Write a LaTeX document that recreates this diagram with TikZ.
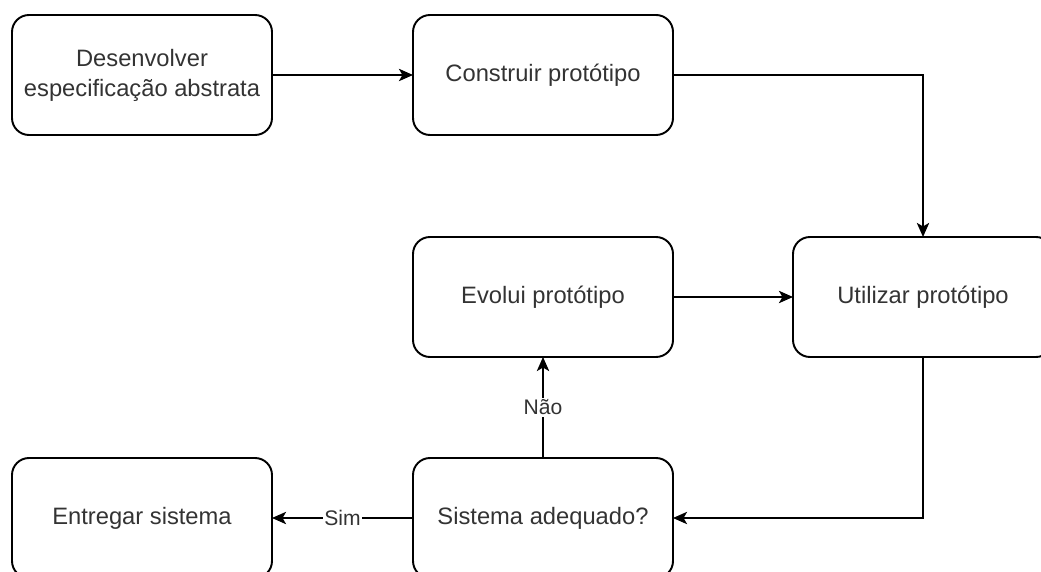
\documentclass[tikz,border=0pt]{standalone}
\usepackage{fontspec}
\setmainfont{Liberation Sans}
\usetikzlibrary{arrows.meta}
\definecolor{txtgray}{HTML}{333333}
\tikzstyle{etapa}=[draw,rounded corners=0.34cm,line width=1.1pt,minimum width=5.2cm,minimum height=2.4cm,inner sep=0pt,outer sep=0pt,align=center,text=txtgray,font=\fontsize{13.5}{17}\selectfont]
\tikzstyle{fluxo}=[-{Stealth[length=8pt,width=7pt,inset=2pt]},line width=1.1pt]
\tikzstyle{rotulo}=[fill=white,inner sep=1pt,text=txtgray,font=\fontsize{12}{14}\selectfont]

\begin{document}
\begin{tikzpicture}
  \useasboundingbox (0,0) rectangle (20.82,-11.44);
  % etapas
  \node[etapa] (desenvolver) at (2.84,-1.5) {Desenvolver\\especificação abstrata};
  \node[etapa] (construir) at (10.86,-1.5) {Construir protótipo};
  \node[etapa] (utilizar) at (18.46,-5.94) {Utilizar protótipo};
  \node[etapa] (evolui) at (10.86,-5.94) {Evolui protótipo};
  \node[etapa] (adequado) at (10.86,-10.36) {Sistema adequado?};
  \node[etapa] (entregar) at (2.84,-10.36) {Entregar sistema};
  % ligacoes
  \draw[fluxo] (desenvolver) -- (construir);
  \draw[fluxo] (construir.east) -| (utilizar.north);
  \draw[fluxo] (evolui) -- (utilizar);
  \draw[fluxo] (utilizar.south) |- (adequado.east);
  \draw[fluxo] (adequado) -- node[rotulo] {Não} (evolui); %nao
  \draw[fluxo] (adequado) -- node[rotulo] {Sim} (entregar); %sim
\end{tikzpicture}
\end{document}
